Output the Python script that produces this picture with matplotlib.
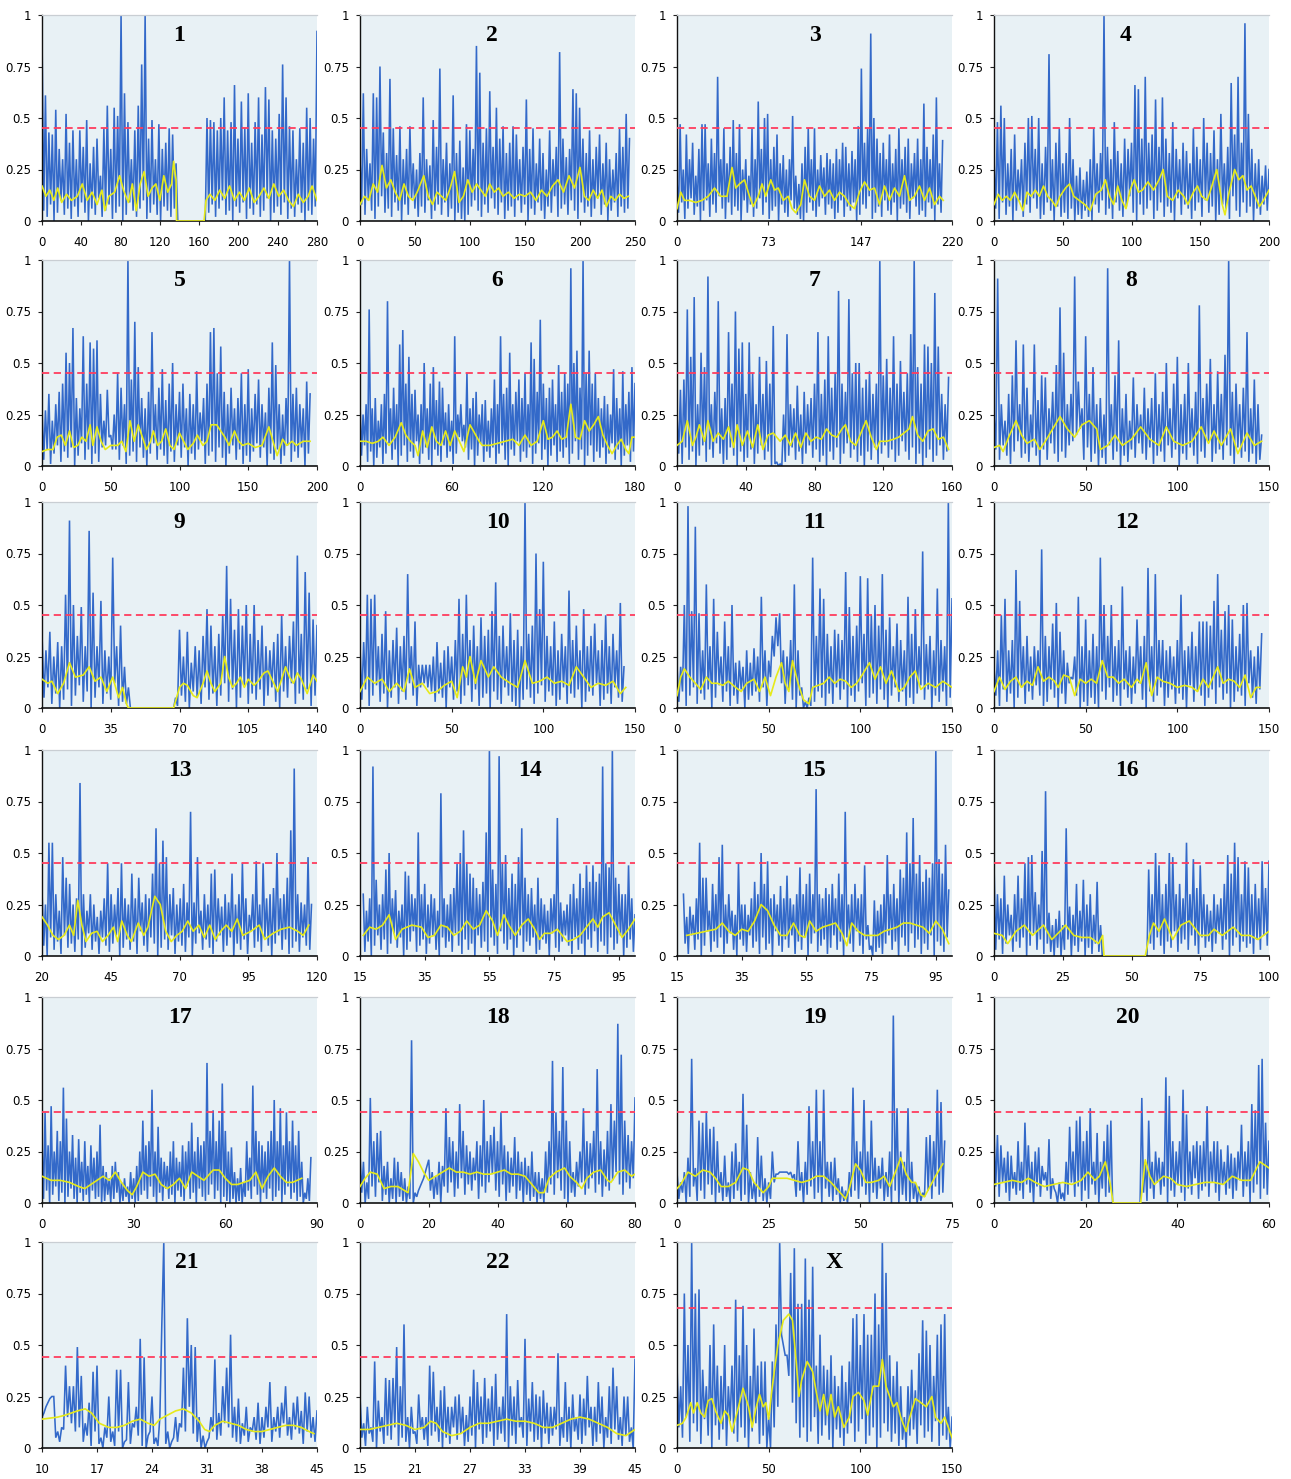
import numpy as np
import matplotlib
matplotlib.use("Agg")
import matplotlib.pyplot as plt

# ---- per-chromosome data (values in percent of full scale) ----
# hi_*: local maxima of the score trace, lo_*: minima between them,
# avg_*: (position, value) points of the smoothed curve.

span_1 = (0, 280)
hi_1 = [91,61,43,42,54,35,30,52,38,44,30,44,36,49,28,36,40,22,45,56,35,55,51,100,62,48,30,44,56,76,100,40,49,30,47,35,38,45,42,28,
        0,0,0,0,0,0,0,0,50,49,48,44,50,60,44,48,66,40,58,45,62,38,48,60,42,65,59,44,40,52,76,60,46,44,30,45,38,55,50,40,92]
lo_1 = [5,2,8,0,4,10,3,6,1,7,2,9,4,0,6,3,11,2,5,8,1,4,7,0,3,9,5,2,6,10,1,4,8,3,0,7,5,2,6,0,
        0,0,0,0,0,0,0,0,4,8,2,6,10,3,5,0,7,4,9,1,6,3,8,2,5,11,0,4,7,3,9,1,6,2,8,4,0,5,3,7]
avg_1 = [(0,17),(4,12),(8,15),(12,10),(16,16),(20,9),(25,13),(30,10),(36,12),(41,18),(46,10),(51,14),(56,8),(61,15),(64,5),
         (68,12),(74,14),(79,22),(83,15),(88,9),(92,18),(96,5),(100,18),(104,24),(108,12),(112,16),(116,18),(120,10),(124,22),
         (128,14),(132,18),(134,29),(136.5,20),(137,0),(165,0),(167,10),(171,13),(176,10),(181,15),(186,11),(191,17),(196,10),
         (201,14),(206,10),(211,16),(216,9),(221,12),(226,16),(231,11),(236,18),(241,12),(246,15),(251,10),(256,7),(261,13),
         (266,9),(271,12),(275,17),(280,10)]

span_2 = (0, 245)
hi_2 = [30,62,35,28,62,60,75,43,33,69,45,32,46,30,35,46,28,25,33,60,30,27,49,36,74,30,38,28,61,33,39,26,47,44,35,85,72,38,45,63,
        36,55,40,46,33,38,46,42,30,36,59,35,45,28,40,33,25,44,30,36,82,40,31,35,64,62,55,40,33,44,30,36,42,28,38,30,25,33,45,36,52,40]
lo_2 = [8,3,10,5,1,7,12,4,6,2,9,5,0,8,3,11,6,2,7,4,10,1,5,8,3,9,2,6,0,4,1,0,3,7,10,5,2,8,4,11,
        6,3,9,1,5,7,2,10,4,8,0,6,3,9,5,1,7,4,12,2,6,8,3,10,5,1,9,4,7,2,6,11,3,8,0,5,9,2,7,4,6]
avg_2 = [(0,8),(4,12),(8,10),(12,18),(16,14),(20,27),(24,16),(28,20),(32,14),(36,10),(40,18),(44,12),(48,10),(52,14),(58,22),
         (62,12),(66,8),(70,14),(74,12),(78,10),(82,16),(86,24),(90,9),(94,12),(98,20),(102,14),(106,18),(110,15),(114,12),
         (118,18),(122,14),(126,16),(130,12),(135,14),(140,11),(145,13),(150,12),(155,14),(160,10),(165,15),(170,12),(175,17),
         (180,20),(185,14),(190,22),(195,16),(200,26),(204,12),(208,10),(212,15),(216,11),(220,15),(224,7),(228,12),(232,10),
         (236,13),(240,11),(244,12)]

span_3 = (0, 212.5)
hi_3 = [20,47,25,42,30,38,22,35,47,47,28,40,33,70,30,45,28,36,49,33,47,25,30,22,45,30,58,35,50,52,30,36,42,28,32,25,30,51,22,18,
        28,36,45,30,45,25,32,26,33,30,28,35,30,38,36,28,34,30,46,74,38,45,91,50,40,33,38,30,42,28,35,45,30,36,40,28,33,40,30,57,
        36,30,42,60,28,39]
lo_3 = [4,9,1,6,11,3,7,0,5,10,2,8,4,12,6,1,9,3,7,5,0,10,4,8,2,6,11,3,9,1,5,7,0,8,4,2,10,6,3,1,
        0,4,9,5,2,7,11,3,8,6,1,4,10,2,7,5,9,0,3,8,6,12,1,4,7,2,10,5,3,9,0,6,8,4,1,11,7,3,5,2,9,6,0,8,4]
avg_3 = [(0,6),(3,14),(6,10),(10,10),(15,9),(20,10),(25,12),(30,16),(35,12),(40,12),(44,26),(47,16),(50,18),(54,20),(58,12),
         (61,7),(65,12),(68,18),(71,12),(75,20),(78,15),(81,16),(85,10),(89,12),(92,6),(95,4),(99,8),(102,20),(106,12),(110,10),
         (114,17),(118,12),(122,15),(126,10),(130,14),(134,12),(138,8),(142,6),(146,14),(150,19),(154,15),(158,16),(162,8),
         (166,17),(170,10),(174,16),(178,12),(182,22),(186,10),(190,12),(194,17),(198,10),(202,16),(206,8),(210,12),(213,10)]

span_4 = (0, 200)
hi_4 = [30,48,56,50,28,35,42,25,30,38,50,51,35,50,28,36,81,30,38,45,28,33,50,30,22,26,20,24,30,45,28,33,100,36,30,48,34,28,40,35,
        38,66,64,40,70,38,42,59,36,60,40,33,48,35,30,38,34,28,45,36,30,50,38,33,44,30,52,28,36,67,42,70,38,96,52,35,28,30,22,27,25]
lo_4 = [6,1,9,3,7,0,5,10,2,8,4,11,6,1,3,9,5,0,7,2,4,1,6,0,3,1,5,2,0,8,4,10,3,6,1,9,5,2,7,12,
        4,0,8,3,6,10,1,5,9,2,7,4,0,11,3,8,6,1,5,9,2,10,4,7,0,3,8,6,1,12,5,2,9,4,7,0,6,3,8,5]
avg_4 = [(0,8),(3,13),(6,10),(9,12),(12,10),(15,14),(18,10),(21,5),(24,14),(27,12),(30,15),(33,12),(36,17),(39,12),(42,10),
         (45,7),(48,12),(52,16),(55,18),(58,12),(62,10),(66,8),(70,5),(74,13),(78,15),(81,20),(84,12),(87,8),(90,17),(93,10),
         (96,6),(99,15),(102,20),(105,14),(108,15),(112,19),(116,15),(120,20),(123,25),(126,12),(130,10),(134,15),(138,12),
         (141,8),(145,14),(148,17),(151,12),(155,10),(158,16),(162,25),(166,8),(168,3),(171,14),(175,25),(178,20),(181,22),
         (184,15),(187,17),(190,12),(193,7),(196,10),(200,15)]

span_5 = (0, 195)
hi_5 = [28,27,35,22,30,36,40,55,50,67,33,28,63,40,60,57,61,35,22,37,15,25,45,38,30,100,42,70,48,33,28,36,65,30,38,47,32,40,50,30,
        36,40,28,35,30,46,26,33,40,65,67,45,58,36,30,38,28,33,45,30,47,28,35,42,30,26,38,60,49,30,25,33,100,35,38,30,28,41,35]
lo_5 = [3,8,1,6,10,2,7,4,9,0,5,11,3,8,1,6,2,9,10,14,8,8,3,10,1,5,7,2,9,4,0,6,11,3,8,5,1,7,2,10,
        4,9,0,6,3,8,12,1,5,7,2,9,4,0,6,10,3,8,1,5,2,7,11,4,9,0,6,3,8,1,5,10,2,7,4,9,0,6]
avg_5 = [(0,7),(4,8),(8,8),(11,14),(14,15),(17,10),(20,17),(23,9),(26,10),(29,14),(32,12),(35,20),(37,10),(40,19),(43,12),
         (46,8),(50,10),(55,10),(58,12),(61,7),(64,22),(67,12),(70,20),(73,14),(76,8),(79,12),(81,17),(84,10),(87,12),(90,18),
         (93,10),(96,8),(100,16),(103,12),(106,8),(110,11),(113,15),(117,10),(120,12),(123,20),(127,20),(130,17),(133,14),
         (136,10),(140,17),(143,12),(146,10),(150,11),(155,9),(160,10),(165,19),(168,12),(171,5),(175,13),(178,10),(182,12),
         (185,10),(190,12),(195,12)]

span_6 = (0, 180)
hi_6 = [31,25,30,76,28,33,22,30,35,80,28,38,30,59,66,40,53,35,37,25,30,50,28,40,48,32,41,38,26,30,22,63,25,30,20,45,28,33,36,25,
        30,32,22,28,42,30,63,35,38,55,30,36,42,33,45,30,60,52,36,71,40,33,38,42,30,49,36,45,40,96,50,56,38,100,45,56,40,45,33,28,
        34,30,25,47,33,28,46,30,36,48,40]
lo_6 = [5,10,2,7,0,4,9,1,6,11,3,8,0,5,10,2,7,4,12,1,6,9,3,0,8,5,2,10,4,7,1,6,14,12,9,3,8,0,5,11,
        2,7,4,9,1,6,10,3,0,8,5,12,2,7,4,9,1,6,11,3,8,0,5,10,2,7,4,9,1,6,12,3,8,0,5,10,2,7,4,9,
        1,6,11,3,8,0,5,10,2,7]
avg_6 = [(0,12),(4,12),(8,11),(12,12),(15,14),(19,10),(23,14),(27,21),(30,15),(33,12),(36,10),(38,5),(41,17),(44,9),(47,19),
         (50,12),(53,10),(56,17),(59,10),(62,17),(65,12),(68,7),(72,20),(75,16),(78,12),(80,10),(85,10),(90,11),(95,12),
         (100,13),(104,10),(108,15),(112,10),(116,12),(120,22),(123,13),(126,14),(129,17),(132,13),(135,14),(138,30),(141,14),
         (144,13),(147,22),(150,17),(153,20),(156,24),(159,15),(162,10),(165,6),(168,10),(171,13),(174,8),(176,6),(178,14),
         (180,14)]

span_7 = (0, 158)
hi_7 = [25,37,42,76,53,82,30,55,48,92,30,36,80,28,33,65,40,75,57,60,35,60,45,30,53,35,51,40,68,2,1,25,64,30,28,39,25,36,30,33,
        40,65,35,42,63,38,45,85,40,36,81,45,50,50,38,42,46,35,40,100,44,52,38,63,40,51,36,45,64,100,48,40,59,58,50,84,58,35,30,43]
lo_7 = [6,1,9,3,7,0,5,10,2,8,4,11,6,1,3,9,5,0,7,2,4,8,1,6,10,3,7,0,1,0,0,2,5,9,3,7,1,6,10,4,
        8,2,5,0,7,3,9,1,6,11,4,8,2,5,0,7,3,9,1,6,10,4,8,2,5,12,7,3,9,1,6,0,4,8,2,5,10,3,7]
avg_7 = [(0,10),(3,12),(6,22),(9,10),(11,14),(13,20),(16,12),(18,22),(21,12),(24,16),(27,13),(30,19),(33,9),(35,20),(38,10),
         (41,17),(44,9),(47,20),(50,8),(53,15),(56,16),(60,12),(63,15),(66,10),(69,16),(72,9),(75,16),(78,12),(81,14),(84,13),
         (87,18),(90,15),(93,14),(96,18),(98,20),(101,12),(104,10),(107,16),(110,22),(113,14),(116,8),(118,12),(122,12),
         (126,13),(129,14),(132,16),(135,18),(137,24),(140,15),(143,12),(146,17),(149,18),(152,13),(155,14),(158,8)]

span_8 = (0, 146)
hi_8 = [25,91,30,22,35,44,61,30,59,38,25,59,32,44,43,28,36,49,77,55,30,35,92,41,28,63,35,48,30,33,25,96,30,44,61,28,35,22,43,30,
        25,38,28,33,45,30,36,50,28,40,53,30,35,50,28,36,78,33,40,52,30,46,35,54,100,36,40,30,38,65,28,42,30,15]
lo_8 = [8,3,10,5,1,7,12,4,6,2,9,5,0,8,3,11,6,2,7,4,10,12,15,18,3,9,2,6,0,4,1,10,3,7,0,5,2,8,4,11,
        6,3,9,1,5,7,2,10,4,8,0,6,3,9,5,1,7,4,12,2,6,8,3,10,5,1,9,4,7,2,6,1,3]
avg_8 = [(0,9),(3,10),(5,7),(8,14),(12,22),(15,15),(18,11),(22,13),(25,8),(28,12),(32,18),(36,24),(40,18),(44,14),(48,20),
         (52,22),(56,18),(58,8),(62,10),(66,15),(70,10),(75,13),(80,19),(85,13),(90,10),(94,19),(98,12),(103,10),(108,12),
         (113,19),(117,11),(120,17),(124,10),(129,18),(133,6),(138,16),(142,10),(146,12)]

span_9 = (0, 140)
hi_9 = [36,28,37,25,32,30,55,91,50,35,49,30,86,56,30,52,28,25,73,30,40,20,10,0,0,0,0,0,0,0,0,0,0,0,5,38,25,37,22,30,
        28,35,48,40,30,36,45,69,53,38,48,40,50,36,50,33,40,30,28,32,36,45,30,35,42,74,36,66,56,43,40]
lo_9 = [5,10,2,7,0,4,9,1,6,11,3,8,0,5,10,2,7,4,12,1,3,2,0,0,0,0,0,0,0,0,0,0,0,0,1,6,3,0,8,5,
        2,10,4,7,1,6,12,3,9,0,5,11,2,7,4,9,1,6,10,3,0,8,5,12,2,7,4,9,1,6]
avg_9 = [(0,14),(3,12),(5,13),(8,7),(11,12),(14,22),(17,15),(21,16),(24,20),(27,13),(30,15),(33,8),(36,15),(39,5),(41,10),
         (43,2),(44,0),(67,0),(70,10),(72,12),(74,11),(77,6),(79,5),(82,12),(84,18),(86,12),(88,8),(91,12),(93,25),(95,15),
         (97,10),(99,12),(101,15),(103,10),(105,14),(108,11),(110,13),(113,17),(115,18),(118,12),(120,8),(122,14),(124,20),
         (126,15),(128,12),(130,17),(132,14),(135,7),(138,16),(140,13)]

span_10 = (0, 144)
hi_10 = [30,32,55,53,55,30,36,47,28,33,39,30,35,65,30,42,21,21,21,21,25,32,22,28,30,25,33,53,36,55,33,40,30,44,35,38,47,61,35,40,
         30,46,33,38,30,100,36,40,75,48,71,35,30,42,28,36,30,57,33,40,28,48,30,35,41,28,33,45,30,36,28,51,20]
lo_10 = [4,9,1,6,11,3,7,0,5,10,2,8,4,12,6,1,10,12,10,8,3,7,5,0,10,4,8,2,6,11,3,9,1,5,7,0,8,4,2,10,
         6,3,1,0,4,9,5,2,7,11,3,8,6,1,4,10,2,7,5,9,0,3,8,6,12,1,4,7,2,10,5,3]
avg_10 = [(0,8),(4,15),(8,12),(12,14),(16,8),(20,12),(24,8),(27,19),(30,10),(34,12),(38,7),(42,8),(46,11),(50,13),(53,5),
          (56,20),(58,15),(60,25),(63,12),(66,23),(70,15),(73,20),(77,15),(82,12),(86,10),(90,23),(94,12),(98,13),(102,15),
          (106,12),(110,13),(114,11),(118,20),(122,15),(126,10),(130,12),(134,11),(138,13),(142,7),(145,10)]

span_11 = (0, 150)
hi_11 = [20,20,50,98,47,88,46,28,60,30,53,37,25,42,30,50,22,23,20,28,22,29,25,54,28,23,35,44,46,28,25,33,60,28,10,3,5,73,35,58,
         53,36,30,38,36,33,66,49,35,40,64,36,63,45,50,40,65,38,44,30,41,33,28,54,36,48,30,76,31,35,28,58,33,30,100,53]
lo_11 = [3,8,1,6,10,2,7,4,9,0,5,11,3,8,1,6,2,9,0,4,6,8,3,10,1,15,25,30,12,2,9,4,0,6,0,0,1,3,8,5,
         1,7,2,10,4,9,0,6,3,8,12,1,5,7,2,9,4,0,6,10,3,8,1,5,2,7,11,4,9,0,6,3,8,1,5]
avg_11 = [(0,6),(2,15),(4,19),(7,15),(10,12),(13,9),(16,15),(19,12),(22,12),(25,11),(28,13),(32,10),(35,8),(38,12),(42,14),
          (45,8),(48,15),(51,6),(54,15),(57,22),(59,12),(61,8),(63,23),(66,12),(69,4),(72,2),(74,10),(77,11),(80,12),(83,15),
          (86,12),(89,14),(92,13),(95,10),(98,12),(101,16),(105,22),(108,14),(111,20),(114,12),(117,18),(121,8),(124,10),
          (127,15),(130,18),(133,9),(137,12),(141,10),(145,13),(150,10)]

span_12 = (0, 146)
hi_12 = [20,28,45,53,28,33,67,52,30,35,25,30,28,77,35,30,41,51,37,28,22,15,25,54,30,43,28,36,30,73,50,35,50,30,33,59,28,30,25,43,
         30,35,68,30,65,33,33,28,30,25,33,55,28,30,37,30,42,42,42,40,52,65,38,47,50,43,30,36,50,51,28,25,30,36]
lo_12 = [6,1,9,3,7,0,5,10,2,8,4,11,6,1,3,9,5,0,7,2,12,14,6,0,3,1,5,2,0,8,4,10,3,6,1,9,5,2,7,12,
         4,0,8,3,6,10,1,5,9,2,7,4,0,11,3,8,6,1,5,9,2,10,4,7,0,3,8,6,1,12,5,2,9]
avg_12 = [(0,8),(3,15),(6,9),(9,13),(12,15),(15,10),(18,13),(21,11),(24,20),(27,13),(30,15),(33,13),(35,10),(38,16),(41,15),
          (44,6),(47,14),(50,12),(53,14),(56,12),(59,23),(62,15),(65,15),(68,12),(71,14),(75,10),(78,14),(80,12),(83,22),
          (86,6),(89,15),(92,13),(96,12),(100,10),(104,11),(108,10),(111,8),(114,14),(117,10),(122,20),(125,12),(128,14),
          (131,13),(134,10),(137,16),(140,5),(143,10),(145,10)]

span_13 = (20, 118)
hi_13 = [32,25,55,55,30,22,48,38,35,25,28,84,30,22,30,25,19,22,28,45,30,25,33,45,28,25,40,28,38,26,30,28,40,62,45,56,48,30,33,25,
         28,35,26,70,26,48,22,30,25,40,42,28,24,30,26,40,25,30,45,28,20,30,46,25,45,28,30,33,50,28,30,38,61,91,30,26,25,48,25]
lo_13 = [5,0,9,3,7,1,10,4,6,2,8,0,4,11,3,7,1,9,5,2,6,10,0,4,8,3,7,1,12,5,2,9,6,0,4,8,3,10,1,7,
         5,2,9,0,6,11,3,8,4,1,7,10,2,5,9,0,6,3,8,1,12,4,7,2,9,5,0,6,10,3,8,1,4,7,2,9,5,3]
avg_13 = [(20,19),(22,15),(24,10),(26,8),(28,10),(30,15),(31.5,10),(33,27),(34.5,15),(36,7),(38,11),(40,12),(42,7),(44,10),
          (46,14),(47.5,7),(49,17),(51,10),(52.5,7),(55,16),(57,10),(58.5,14),(61,29),(63,25),(65,12),(67,7),(69,10),(71,12),
          (73,17),(75,12),(77,15),(79,9),(81,15),(83,8),(85,12),(87,15),(89,12),(91,18),(93,10),(96,12),(99,15),(101,8),
          (104,11),(107,13),(110,14),(113,12),(115,10),(117,15)]

span_14 = (16, 100)
hi_14 = [30,22,28,92,37,25,30,42,50,28,32,22,25,41,39,30,28,60,30,35,25,30,28,22,79,28,25,30,33,45,50,61,45,40,38,33,30,36,60,100,
         42,35,97,45,49,33,40,35,48,62,38,30,33,25,38,28,25,22,28,30,67,26,22,25,30,35,28,40,33,44,36,44,36,40,92,45,43,100,38,35,
         30,30,44,28,20]
lo_14 = [2,7,0,5,10,3,8,1,6,11,4,9,0,3,7,12,2,5,8,1,6,10,3,0,9,4,7,2,11,5,1,8,3,6,0,10,4,7,2,9,
         5,1,12,6,3,8,0,4,10,2,7,5,9,1,3,8,6,0,11,4,2,7,10,5,1,9,3,6,0,8,4,12,2,7,5,1,9,3,6,10,0,4,8,2]
avg_14 = [(16,10),(18,14),(20,13),(22,15),(24,20),(26,8),(28,13),(31,15),(34,14),(36,9),(38,10),(40,15),(42,14),(44,10),
          (46,12),(48,17),(50,13),(52,15),(54,22),(56,17),(57.5,10),(59.5,20),(61,15),(63,10),(65,15),(67,18),(69,13),
          (70.5,8),(72,11),(74,11),(76,13),(77.5,10),(79,7),(81,8),(83,10),(85,14),(87,18),(88.5,14),(90,19),(92,21),(94,15),
          (96,9),(98,13),(100,18)]

span_15 = (17, 99)
hi_15 = [30,19,24,20,28,55,38,38,22,35,30,48,54,25,30,22,20,45,25,25,20,28,36,30,50,35,46,28,30,25,34,28,39,28,25,30,43,30,35,40,
         30,81,30,28,33,30,35,28,40,30,70,25,30,35,28,30,44,15,5,27,22,25,30,49,30,35,28,42,38,60,45,67,40,49,36,42,38,45,100,47,
         40,54,32]
lo_15 = [6,1,10,3,8,0,5,12,2,7,4,9,1,6,11,3,0,8,5,2,10,4,7,1,9,3,6,0,12,5,2,8,4,10,1,7,3,9,0,6,
         11,2,5,8,1,4,10,3,7,0,9,6,2,12,5,1,8,3,0,2,4,1,6,10,3,7,0,9,5,2,11,4,8,1,6,3,10,0,7,5,2,9]
avg_15 = [(18,10),(21,11),(24,12),(27,13),(29,16),(31,12),(33,10),(35,13),(37,12),(39,17),(41,25),(43,22),(45,15),(47,10),
          (49,10),(51,16),(53,10),(54.5,9),(56,17),(58,12),(60,14),(62,15),(64,16),(66,11),(67.5,5),(69,16),(71,12),(73,10),
          (75,10),(77,10),(79,12),(81,13),(83,14),(85,16),(87,16),(89,15),(91,14),(93,11),(95,17),(97,13),(99,6)]

span_16 = (0, 100)
hi_16 = [45,30,28,39,25,20,30,39,28,45,48,49,31,25,51,80,21,15,18,22,15,62,24,20,35,22,37,25,30,20,36,15,
         0,0,0,0,0,0,0,0,0,0,0,0,0,42,30,50,44,30,35,50,48,30,35,28,55,30,47,33,44,30,25,22,30,25,28,35,49,40,
         55,48,30,46,43,30,35,28,46,33,46]
lo_16 = [3,8,1,6,10,2,7,4,9,0,5,11,3,8,1,6,2,0,4,0,3,8,0,5,2,7,0,4,1,6,2,0,0,0,0,0,0,0,0,0,
         0,0,0,0,0,6,3,9,5,1,7,4,12,2,6,8,3,10,5,1,9,4,7,2,6,11,3,8,0,5,9,2,7,4,6,1,8,3,10,5]
avg_16 = [(0,11),(3,10),(5,6),(8,12),(11,15),(14,10),(18,15),(21,8),(24,12),(26,15),(29,10),(32,9),(35,9),(38,6),(39.5,10),
          (40,0),(55,0),(56.5,10),(58,16),(60,12),(62,18),(65,8),(68,15),(71,17),(75,10),(78,10),(80,13),(83,10),(87,14),
          (90,10),(93,10),(96,8),(100,12)]

span_17 = (0, 88)
hi_17 = [30,44,28,47,25,35,30,56,41,25,33,22,31,20,30,18,28,22,25,38,18,15,12,18,20,15,10,12,8,15,12,18,25,40,28,30,55,25,37,22,
         20,18,25,30,22,20,28,25,30,39,25,32,28,30,68,35,45,30,40,58,35,25,27,15,12,17,10,30,22,57,35,30,28,25,30,35,50,30,46,28,
         44,30,40,28,35,20,5,12,22]
lo_17 = [2,6,0,4,8,1,5,0,3,7,2,0,5,1,4,0,6,2,3,0,1,4,0,2,5,0,1,3,0,2,0,1,4,6,2,8,3,0,5,1,
         7,2,4,0,6,3,1,8,2,5,0,7,3,1,4,9,2,6,0,3,1,0,2,0,1,0,3,6,2,8,4,0,5,2,7,1,3,6,0,4,8,2,5,1,3,0,2,1]
avg_17 = [(0,13),(3,11),(6,11),(9,10),(12,8),(14,7),(17,10),(20,13),(22,11),(24,15),(26,10),(28,6),(29.5,4),(31,8),(33,15),
          (35,13),(37,14),(39,9),(41,7),(43,9),(45,12),(47,7),(49,15),(51,13),(53,11),(56,16),(58,16),(60,12),(62,9),(64,9),
          (66,10),(68,11),(70,15),(72,7),(74,13),(76,17),(78,13),(80,10),(82,10),(85,12)]

span_18 = (0, 80)
hi_18 = [24,20,10,51,30,34,35,18,20,12,22,20,15,12,8,79,5,6,10,15,21,15,13,20,18,46,32,30,25,48,35,28,25,22,30,28,50,30,33,37,
         30,44,28,25,22,32,25,20,22,18,25,15,15,12,25,30,69,44,35,66,40,30,15,20,25,46,30,29,35,65,30,26,35,48,40,87,72,40,33,30,51]
lo_18 = [5,0,2,8,3,10,1,4,0,2,0,3,1,0,2,0,3,8,12,18,6,2,4,0,8,5,10,3,7,12,4,9,6,11,2,8,5,10,14,6,
         3,9,1,5,8,2,6,0,4,1,3,0,2,0,5,9,4,12,6,2,0,5,3,8,10,4,7,12,5,9,3,8,6,11,15,9,4,10,7,12]
avg_18 = [(0,8),(1.5,12),(3,15),(5,14),(7,7),(9,8),(11,8),(13,6),(14,5),(15.5,24),(17,20),(18.5,15),(20,11),(22,13),(24,15),
          (26,17),(28,15),(30,15),(32,14),(34,15),(36,14),(38,14),(40,15),(42,16),(44,14),(46,14),(48,13),(50,9),(52,5),
          (53.5,5),(55,12),(57,15),(59.5,17),(61,13),(63,10),(64.5,7),(66,12),(68,15),(70,16),(72,11),(73,10),(75,15),(77,16),
          (79,13),(80,14)]

span_19 = (0, 73)
hi_19 = [15,10,15,22,70,17,40,39,44,36,37,30,15,23,10,25,29,20,53,38,15,10,32,23,12,10,25,14,15,15,15,15,14,30,15,20,47,30,55,30,
         55,20,20,22,12,8,6,15,56,30,25,50,25,40,22,18,22,15,25,91,46,25,20,46,20,10,8,5,32,33,30,55,49,30]
lo_19 = [2,5,0,3,8,1,6,2,9,4,0,5,1,3,0,2,6,1,4,0,2,0,3,1,0,2,10,14,15,15,14,12,3,6,0,4,8,2,5,0,
         7,3,1,4,0,1,0,3,6,2,8,4,0,5,2,7,1,3,0,6,0,4,1,0,2,0,1,3,6,2,8,4,5]
avg_19 = [(0,7),(1,9),(3,15),(5,13),(7,16),(9,15),(10.5,12),(12,8),(14,8),(16,10),(18,17),(19.5,16),(21,10),(22.5,7),
          (23.5,5),(25,8),(26,12),(28,12),(30,12),(32,11),(34,10),(36,11),(38,13),(40,13),(42,10),(44,6),(46,2),(47,7),
          (48.7,19),(50,16),(51.5,10),(53,10),(55,11),(56.5,13),(58,8),(60,17),(61,22),(62.5,14),(64,10),(65,10),(66.5,4),
          (67.5,3),(69,8),(70.5,13),(72.5,19)]

span_20 = (0, 60)
hi_20 = [34,33,28,22,25,23,15,30,20,39,28,20,25,27,18,15,31,12,5,10,5,20,37,25,40,42,30,35,46,20,34,20,30,38,40,
         0,0,0,0,0,0,0,0,51,20,40,20,25,22,20,61,52,30,25,30,55,43,25,28,30,28,30,47,25,30,30,26,20,28,24,22,25,38,25,30,
         48,45,67,70,39,30]
lo_20 = [8,3,10,5,1,7,4,6,2,9,5,0,8,3,11,6,2,7,0,2,1,4,10,3,8,1,6,2,9,4,0,7,3,5,0,0,0,0,0,0,
         0,0,0,5,1,7,2,10,4,8,0,6,3,9,5,1,7,4,12,2,6,8,3,10,5,1,9,4,7,2,6,11,3,8,0,5,9,2,7,4]
avg_20 = [(0,9),(2,10),(4,11),(6,10),(7.5,12),(9,10),(11,8),(13,9),(15,10),(17,9),(19,11),(20.5,15),(22,11),(23,13),
          (24.3,20),(25.3,10),(26,0),(32,0),(33,21),(34,13),(35,9),(37,13),(38.5,12),(40,9),(42,8),(44,9),(46,10),(48,10),
          (50,9),(52,13),(54,11),(56,11),(58,20),(60,17)]

span_21 = (10, 45)
hi_21 = [15,20,24,25,8,10,40,30,30,49,35,12,22,37,40,5,10,25,8,38,38,3,32,12,20,53,44,6,25,5,15,100,8,3,15,12,39,63,50,49,
         15,6,3,15,43,17,30,39,55,20,24,12,20,10,15,22,15,20,32,15,20,22,30,15,22,25,18,27,25,15,18]
lo_21 = [17,22,25,5,3,9,15,12,8,10,3,6,1,8,2,0,5,3,1,8,0,4,2,10,6,1,0,8,2,1,60,2,0,5,3,10,8,20,7,3,
         0,0,5,8,4,6,12,10,5,3,2,6,3,8,4,2,5,10,3,8,5,12,6,4,9,7,2,8,5,3]
avg_21 = [(10,14),(12,15),(13,16),(14.5,18),(15.5,19),(16.3,17),(17.3,12),(18.5,10),(19.5,10),(20.5,11),(21.5,13),
          (22.5,14),(23.5,12),(24.3,11),(25,14),(26,16),(27,18),(28,19),(29,17),(30,13),(30.7,9),(31.3,8),(32,11),(33,13),
          (34,12),(35,11),(36,9),(37,8),(38,8),(39,9),(40,10),(41,11),(42,11),(43,10),(44,8),(44.6,7)]

span_22 = (15, 45)
hi_22 = [25,12,20,10,42,23,15,34,33,34,49,30,60,15,20,8,26,15,15,40,37,20,28,30,20,20,25,26,20,16,25,38,32,25,34,24,30,36,20,25,
         65,30,25,33,15,53,24,32,26,25,28,22,20,20,46,15,32,20,26,15,26,24,35,20,20,32,25,15,30,39,30,15,25,25,10,43]
lo_22 = [5,1,7,3,0,8,2,6,4,10,1,5,3,0,7,2,9,4,1,6,8,3,0,5,2,10,4,7,1,3,6,0,9,2,5,8,1,4,7,3,
         0,6,2,10,5,1,8,3,4,0,7,2,6,9,1,5,3,0,8,4,2,6,10,1,3,7,0,5,2,9,4,1,6,3,0]
avg_22 = [(15,9),(16,9),(17,10),(18,11),(19,12),(20,11),(21,9),(22,10),(22.7,13),(23.3,12),(24,8),(25,6),(26,7),(27,10),
          (28,12),(29,12),(30,13),(31,14),(32,13),(33,13),(34,12),(35,10),(36,10),(37,12),(38,14),(39,15),(40,14),(41,12),
          (42,10),(43,7),(44,6),(45,9)]

span_x = (0, 150)
hi_x = [40,30,75,50,100,75,77,38,30,50,60,40,35,50,30,40,72,45,69,50,35,58,40,42,42,15,42,60,100,50,45,85,97,70,70,92,72,88,40,55,
        40,38,45,35,30,40,32,42,63,65,50,65,55,55,75,60,100,85,45,35,42,30,15,30,38,28,46,62,57,50,35,55,60,65,20,15]
lo_x = [10,5,15,3,12,8,2,14,6,0,11,4,9,1,13,7,3,10,5,0,8,12,2,6,0,0,10,20,55,45,35,22,12,5,10,3,8,15,2,6,
        11,4,0,9,5,1,7,12,3,8,14,2,6,10,0,5,12,8,3,7,1,4,0,6,9,2,11,5,8,3,13,1,6,4,0]
avg_x = [(0,11),(3,12),(5,15),(7.5,22),(9,17),(11,22),(13,17),(15,15),(17,23),(19,24),(21,18),(24,12),(26,18),(28,16),(30,8),
         (33,18),(36,29),(39,20),(41,10),(43,19),(45,26),(47,20),(48.5,22),(50,14),(52,30),(55,50),(58,62),(61,65),(63,62),
         (65,42),(66.5,25),(68,33),(71,42),(74,37),(76,27),(78,18),(80,26),(82,16),(84,26),(86,15),(88,20),(91,10),(94,15),
         (96,25),(99,27),(102,23),(104,16),(107,30),(110,30),(112,43),(114,30),(116,25),(118,20),(120,22),(122,15),(125,8),
         (127,15),(130,24),(133,22),(136,20),(139,25),(141,15),(144,12),(146,15),(150,5)]

# panel labels, axis ranges, tick labels and threshold levels (percent)
names = [str(i) for i in range(1, 23)] + ["X"]
xlims = [(0,280),(0,250),(0,220),(0,200),(0,200),(0,180),(0,160),(0,150),(0,140),(0,150),(0,150),(0,150),
         (20,120),(15,100),(15,100),(0,100),(0,90),(0,80),(0,75),(0,60),(10,45),(15,45),(0,150)]
xticks = [[0,40,80,120,160,200,240,280],[0,50,100,150,200,250],[0,73,147,220],[0,50,100,150,200],
          [0,50,100,150,200],[0,60,120,180],[0,40,80,120,160],[0,50,100,150],[0,35,70,105,140],
          [0,50,100,150],[0,50,100,150],[0,50,100,150],[20,45,70,95,120],[15,35,55,75,95],[15,35,55,75,95],
          [0,25,50,75,100],[0,30,60,90],[0,20,40,60,80],[0,25,50,75],[0,20,40,60],[10,17,24,31,38,45],
          [15,21,27,33,39,45],[0,50,100,150]]
cutoffs = [45]*16 + [44]*6 + [68]

spans = [span_1, span_2, span_3, span_4, span_5, span_6, span_7, span_8, span_9, span_10, span_11, span_12,
         span_13, span_14, span_15, span_16, span_17, span_18, span_19, span_20, span_21, span_22, span_x]
highs = [hi_1, hi_2, hi_3, hi_4, hi_5, hi_6, hi_7, hi_8, hi_9, hi_10, hi_11, hi_12,
         hi_13, hi_14, hi_15, hi_16, hi_17, hi_18, hi_19, hi_20, hi_21, hi_22, hi_x]
lows = [lo_1, lo_2, lo_3, lo_4, lo_5, lo_6, lo_7, lo_8, lo_9, lo_10, lo_11, lo_12,
        lo_13, lo_14, lo_15, lo_16, lo_17, lo_18, lo_19, lo_20, lo_21, lo_22, lo_x]
avgs = [avg_1, avg_2, avg_3, avg_4, avg_5, avg_6, avg_7, avg_8, avg_9, avg_10, avg_11, avg_12,
        avg_13, avg_14, avg_15, avg_16, avg_17, avg_18, avg_19, avg_20, avg_21, avg_22, avg_x]


def trace(span, hi, lo):
    """Interleave maxima and the minima between them along the position axis."""
    n = len(hi)
    xp = np.linspace(span[0], span[1], n)
    xs, ys = [], []
    for i in range(n):
        xs.append(xp[i]); ys.append(hi[i])
        if i < n - 1 and i < len(lo):
            xs.append(0.5 * (xp[i] + xp[i + 1])); ys.append(lo[i])
    return np.array(xs), np.array(ys) / 100.0


W, H = 1291, 1479
fig = plt.figure(figsize=(W / 100, H / 100), dpi=100)
fig.patch.set_facecolor("white")

col_left = [42, 360, 677, 994]
row_top = [15, 260, 502, 750, 997, 1242]
ax_w, ax_h = 275, 206
title_x = {"2": 0.48, "4": 0.48, "12": 0.485, "14": 0.62, "16": 0.485, "20": 0.485, "21": 0.525, "X": 0.57}

tick_font = ["Liberation Sans Narrow", "DejaVu Sans"]

for i, name in enumerate(names):
    r, c = divmod(i, 4)
    ax = fig.add_axes([col_left[c] / W, (H - row_top[r] - ax_h) / H, ax_w / W, ax_h / H])
    ax.set_facecolor("#e8f1f5")

    xs, ys = trace(spans[i], highs[i], lows[i])
    ax.plot(xs, ys, color="#3369c9", lw=1.15, solid_joinstyle="miter", zorder=2)

    ax_pos = [p for p, v in avgs[i]]
    ax_val = [v / 100.0 for p, v in avgs[i]]
    ax.plot(ax_pos, ax_val, color="#e6ea1a", lw=1.2, zorder=3)

    ax.axhline(cutoffs[i] / 100.0, color="#ff3d5e", lw=1.3, dashes=(4, 2.5), zorder=4)

    ax.set_xlim(*xlims[i])
    ax.set_ylim(0, 1)
    ax.set_xticks(xticks[i])
    ax.set_xticklabels([str(t) for t in xticks[i]], family=tick_font)
    ax.set_yticks([0, 0.25, 0.5, 0.75, 1])
    ax.set_yticklabels(["0", "0.25", "0.5", "0.75", "1"], family=tick_font)
    ax.tick_params(axis="both", labelsize=8.5, length=3, width=0.8, color="#222222", pad=5)
    ax.tick_params(axis="x", pad=8)

    ax.spines["right"].set_visible(False)
    ax.spines["top"].set_color("#c9ced3")
    ax.spines["top"].set_linewidth(0.9)
    ax.spines["left"].set_color("#111111")
    ax.spines["left"].set_linewidth(1.0)
    ax.spines["bottom"].set_color("#111111")
    ax.spines["bottom"].set_linewidth(1.2)

    ax.text(title_x.get(name, 0.5), 0.9, name, transform=ax.transAxes, ha="center", va="center",
            fontsize=17, fontweight="bold", family=["Liberation Serif", "DejaVu Serif"], zorder=5)

fig.savefig("out.png", dpi=100, facecolor="white")
